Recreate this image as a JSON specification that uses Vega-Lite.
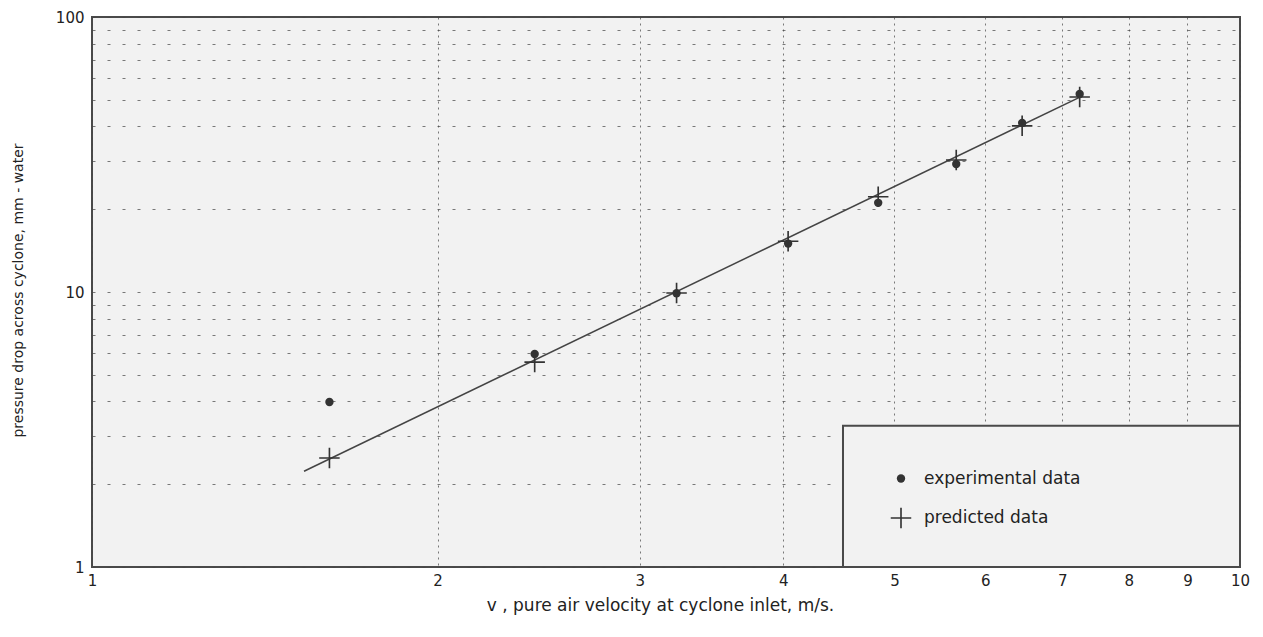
{
  "$schema": "https://vega.github.io/schema/vega-lite/v6.json",
  "width": 1148,
  "height": 550,
  "autosize": "none",
  "padding": {"left": 92, "top": 17, "right": 23, "bottom": 70},
  "background": "white",
  "config": {
    "view": {"stroke": "#4a4a4a", "strokeWidth": 2, "fill": "#f2f2f2"},
    "font": "DejaVu Sans"
  },
  "datasets": {
    "points": [
      {"series": "experimental data", "v": 1.61, "dp": 3.98},
      {"series": "experimental data", "v": 2.43, "dp": 5.95},
      {"series": "experimental data", "v": 3.23, "dp": 9.9},
      {"series": "experimental data", "v": 4.04, "dp": 15.0},
      {"series": "experimental data", "v": 4.84, "dp": 21.1},
      {"series": "experimental data", "v": 5.66, "dp": 29.2},
      {"series": "experimental data", "v": 6.46, "dp": 41.2},
      {"series": "experimental data", "v": 7.25, "dp": 52.5},
      {"series": "predicted data", "v": 1.61, "dp": 2.49},
      {"series": "predicted data", "v": 2.43, "dp": 5.56},
      {"series": "predicted data", "v": 3.23, "dp": 9.92},
      {"series": "predicted data", "v": 4.04, "dp": 15.3},
      {"series": "predicted data", "v": 4.84, "dp": 22.2},
      {"series": "predicted data", "v": 5.66, "dp": 30.2},
      {"series": "predicted data", "v": 6.46, "dp": 40.2},
      {"series": "predicted data", "v": 7.25, "dp": 51.2}
    ],
    "fit": [
      {"v": 1.53, "dp": 2.23},
      {"v": 7.3, "dp": 51.8}
    ],
    "box": [
      {"x1": 4.51, "x2": 10, "y1": 1, "y2": 3.26}
    ]
  },
  "layer": [
    {
      "data": {"name": "box"},
      "mark": {"type": "rect", "fill": "#f2f2f2", "stroke": "#4a4a4a", "strokeWidth": 2},
      "encoding": {
        "x": {
          "field": "x1", "type": "quantitative",
          "scale": {"type": "log", "domain": [1, 10], "nice": false},
          "axis": {
            "values": [1, 2, 3, 4, 5, 6, 7, 8, 9, 10],
            "format": "d",
            "grid": true, "gridDash": [2, 4], "gridColor": "#444", "gridOpacity": 0.7, "gridWidth": 1,
            "ticks": false, "domain": false, "labelFlush": false,
            "labelFontSize": 15, "labelColor": "#222", "labelPadding": 6,
            "title": "v , pure air velocity at cyclone inlet, m/s.",
            "titleFontSize": 17, "titleFontWeight": "normal", "titleColor": "#222",
            "titleX": 568, "titleY": 38, "titleAlign": "center", "titleBaseline": "middle"
          }
        },
        "x2": {"field": "x2"},
        "y": {
          "field": "y1", "type": "quantitative",
          "scale": {"type": "log", "domain": [1, 100], "nice": false},
          "axis": {
            "values": [1, 2, 3, 4, 5, 6, 7, 8, 9, 10, 20, 30, 40, 50, 60, 70, 80, 90, 100],
            "format": "d",
            "labelExpr": "datum.value == 1 || datum.value == 10 || datum.value == 100 ? datum.label : ''",
            "grid": true, "gridDash": [3, 12], "gridColor": "#444", "gridOpacity": 0.7, "gridWidth": 1,
            "ticks": false, "domain": false, "labelFlush": false,
            "labelFontSize": 15, "labelColor": "#222", "labelPadding": 8,
            "title": "pressure drop across cyclone, mm - water",
            "titleFontSize": 14, "titleFontWeight": "normal", "titleColor": "#222",
            "titleX": -74, "titleY": 273, "titleAngle": -90, "titleAlign": "center", "titleBaseline": "middle"
          }
        },
        "y2": {"field": "y2"}
      }
    },
    {
      "data": {"name": "fit"},
      "mark": {"type": "line", "color": "#444", "strokeWidth": 1.5},
      "encoding": {
        "x": {"field": "v", "type": "quantitative"},
        "y": {"field": "dp", "type": "quantitative"}
      }
    },
    {
      "data": {"name": "points"},
      "mark": {"type": "point", "filled": true, "color": "#333", "opacity": 1},
      "encoding": {
        "x": {"field": "v", "type": "quantitative"},
        "y": {"field": "dp", "type": "quantitative"},
        "shape": {
          "field": "series", "type": "nominal",
          "scale": {"domain": ["experimental data", "predicted data"], "range": ["circle", "M-1,-0.08H-0.08V-1H0.08V-0.08H1V0.08H0.08V1H-0.08V0.08H-1Z"]},
          "legend": {
            "title": null, "orient": "none", "legendX": 798, "legendY": 453,
            "padding": 0, "rowPadding": 17, "labelOffset": 12,
            "labelFontSize": 17, "labelColor": "#222",
            "symbolFillColor": "#333", "symbolOpacity": 1
          }
        },
        "size": {
          "field": "series", "type": "nominal",
          "scale": {"domain": ["experimental data", "predicted data"], "range": [70, 420]},
          "legend": {
            "title": null, "orient": "none", "legendX": 798, "legendY": 453,
            "padding": 0, "rowPadding": 17, "labelOffset": 12,
            "labelFontSize": 17, "labelColor": "#222",
            "symbolFillColor": "#333", "symbolOpacity": 1
          }
        }
      }
    }
  ]
}
